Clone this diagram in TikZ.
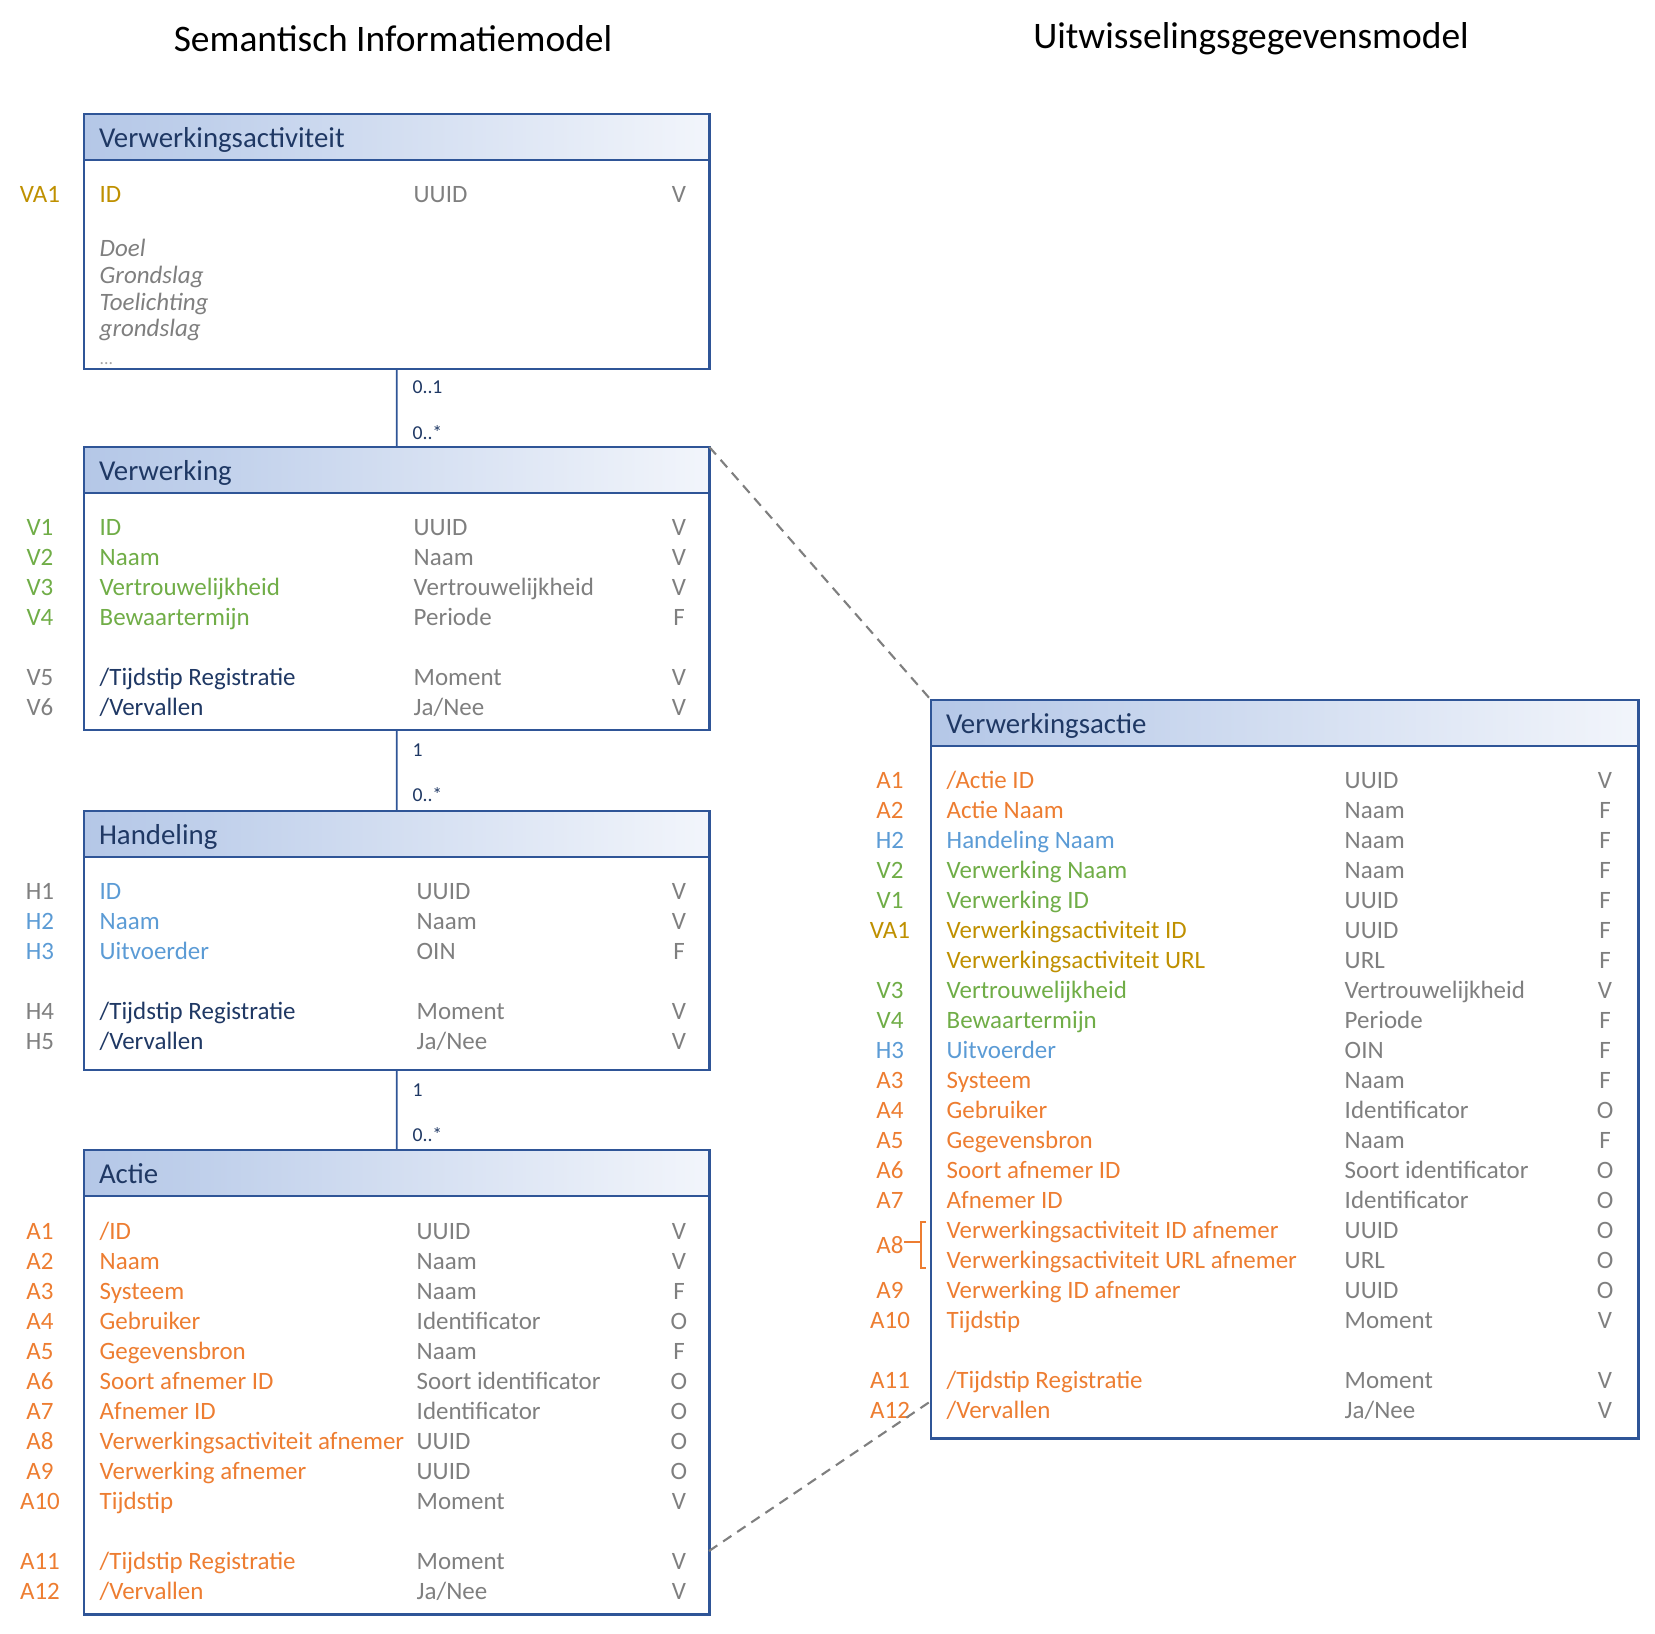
\documentclass[tikz,border=0pt]{standalone}
\usepackage{fontspec}
\setmainfont{Carlito}
\usepackage{tikz}
\usepackage{color}
\definecolor{Rand}{RGB}{47,85,151}
\definecolor{KopL}{RGB}{180,199,231}
\definecolor{KopR}{RGB}{242,245,251}
\definecolor{Navy}{RGB}{31,56,100}
\definecolor{Grijs}{RGB}{127,127,127}
\definecolor{Oranje}{RGB}{237,125,49}
\definecolor{Groen}{RGB}{112,173,71}
\definecolor{Lichtblauw}{RGB}{91,155,213}
\definecolor{Goud}{RGB}{191,144,0}
\usetikzlibrary{shapes,arrows,positioning}
\tikzset{header/.style={rectangle, draw=Rand, line width=0.7pt, outer sep=0pt, left color=KopL, right color=KopR, text=Navy, text width=5.95cm, inner xsep=0.15cm, inner ysep=0pt,
 minimum height=0.46cm, anchor=north west, font=\fontsize{8.2pt}{9pt}\selectfont, text height=0.6em, text depth=0pt}}
\tikzset{body/.style={rectangle, draw=Rand, line width=0.7pt, outer sep=0pt, minimum width=6.25cm, anchor=north west}}
\tikzset{attr/.style={anchor=west, inner sep=0pt, yshift=0.03cm, text height=0.64em, text depth=0pt, font=\fontsize{7.1pt}{8pt}\selectfont}}
\tikzset{dtype/.style={attr, text=Grijs}}
\tikzset{flagtxt/.style={attr, anchor=center, text=Grijs}}
\tikzset{rowid/.style={attr, anchor=center}}
\tikzset{hand/.style={attr, text=Grijs, font=\fontsize{7.1pt}{8pt}\selectfont\itshape}}
\tikzset{mult/.style={anchor=west, inner sep=0pt, xshift=0.15cm, text=Navy, font=\fontsize{5.6pt}{6pt}\selectfont}}
\tikzset{heading/.style={inner sep=0pt, font=\fontsize{10.65pt}{12pt}\selectfont}}
\tikzset{line/.style={draw=Rand, line width=0.5pt}}
\tikzset{dashline/.style={draw=Grijs, line width=0.6pt, dash pattern=on 0.1cm off 0.07cm}}

\begin{document}
\begin{tikzpicture}[x=0.01cm, y=-0.01cm]
        \useasboundingbox (0,0) rectangle (1655,1634);
        \node[heading] (sim) at (393,39) {Semantisch Informatiemodel};
        \node[heading] (ugm) at (1251,39) {Uitwisselingsgegevensmodel};

        % Verwerkingsactiviteit
        \node[header] (vahd) at (84,114) {Verwerkingsactiviteit};
        \node[body, minimum height=2.09cm] (vabd) at (vahd.south west) {};
        \node[rowid, text=Goud] (va1l) at (40,194) {VA1}; \node[attr, text=Goud] (va1n) at (99,194) {ID}; \node[dtype] (va1t) at (413,194) {UUID}; \node[flagtxt] (va1f) at (679,194) {V};
        \node[hand] (doel) at (99,248) {Doel};
        \node[hand] (grsl) at (99,275) {Grondslag};
        \node[hand] (toel) at (99,302) {Toelichting};
        \node[hand] (grs2) at (99,328) {grondslag};
        \node[hand, font=\fontsize{5pt}{6pt}\selectfont, text=Grijs!70] (dots) at (99,356) {...};

        % Verwerking
        \node[header] (vhd) at (84,447) {Verwerking};
        \node[body, minimum height=2.37cm] (vbd) at (vhd.south west) {};
        \node[rowid, text=Groen] (v1l) at (40,527) {V1}; \node[attr, text=Groen] (v1n) at (99,527) {ID}; \node[dtype] (v1t) at (413,527) {UUID}; \node[flagtxt] (v1f) at (679,527) {V};
        \node[rowid, text=Groen] (v2l) at (40,557) {V2}; \node[attr, text=Groen] (v2n) at (99,557) {Naam}; \node[dtype] (v2t) at (413,557) {Naam}; \node[flagtxt] (v2f) at (679,557) {V};
        \node[rowid, text=Groen] (v3l) at (40,587) {V3}; \node[attr, text=Groen] (v3n) at (99,587) {Vertrouwelijkheid}; \node[dtype] (v3t) at (413,587) {Vertrouwelijkheid}; \node[flagtxt] (v3f) at (679,587) {V};
        \node[rowid, text=Groen] (v4l) at (40,617) {V4}; \node[attr, text=Groen] (v4n) at (99,617) {Bewaartermijn}; \node[dtype] (v4t) at (413,617) {Periode}; \node[flagtxt] (v4f) at (679,617) {F};
        \node[rowid, text=Grijs] (v5l) at (40,677) {V5}; \node[attr, text=Navy] (v5n) at (99,677) {/Tijdstip Registratie}; \node[dtype] (v5t) at (413,677) {Moment}; \node[flagtxt] (v5f) at (679,677) {V};
        \node[rowid, text=Grijs] (v6l) at (40,707) {V6}; \node[attr, text=Navy] (v6n) at (99,707) {/Vervallen}; \node[dtype] (v6t) at (413,707) {Ja/Nee}; \node[flagtxt] (v6f) at (679,707) {V};

        % Handeling
        \node[header] (hhd) at (84,811) {Handeling};
        \node[body, minimum height=2.13cm] (hbd) at (hhd.south west) {};
        \node[rowid, text=Grijs] (h1l) at (40,891) {H1}; \node[attr, text=Lichtblauw] (h1n) at (99,891) {ID}; \node[dtype] (h1t) at (416,891) {UUID}; \node[flagtxt] (h1f) at (679,891) {V};
        \node[rowid, text=Lichtblauw] (h2l) at (40,921) {H2}; \node[attr, text=Lichtblauw] (h2n) at (99,921) {Naam}; \node[dtype] (h2t) at (416,921) {Naam}; \node[flagtxt] (h2f) at (679,921) {V};
        \node[rowid, text=Lichtblauw] (h3l) at (40,951) {H3}; \node[attr, text=Lichtblauw] (h3n) at (99,951) {Uitvoerder}; \node[dtype] (h3t) at (416,951) {OIN}; \node[flagtxt] (h3f) at (679,951) {F};
        \node[rowid, text=Grijs] (h4l) at (40,1011) {H4}; \node[attr, text=Navy] (h4n) at (99,1011) {/Tijdstip Registratie}; \node[dtype] (h4t) at (416,1011) {Moment}; \node[flagtxt] (h4f) at (679,1011) {V};
        \node[rowid, text=Grijs] (h5l) at (40,1041) {H5}; \node[attr, text=Navy] (h5n) at (99,1041) {/Vervallen}; \node[dtype] (h5t) at (416,1041) {Ja/Nee}; \node[flagtxt] (h5f) at (679,1041) {V};

        % Actie
        \node[header] (ahd) at (84,1150) {Actie};
        \node[body, minimum height=4.18cm] (abd) at (ahd.south west) {};
        \node[rowid, text=Oranje] (a1l) at (40,1231) {A1}; \node[attr, text=Oranje] (a1n) at (99,1231) {/ID}; \node[dtype] (a1t) at (416,1231) {UUID}; \node[flagtxt] (a1f) at (679,1231) {V};
        \node[rowid, text=Oranje] (a2l) at (40,1261) {A2}; \node[attr, text=Oranje] (a2n) at (99,1261) {Naam}; \node[dtype] (a2t) at (416,1261) {Naam}; \node[flagtxt] (a2f) at (679,1261) {V};
        \node[rowid, text=Oranje] (a3l) at (40,1291) {A3}; \node[attr, text=Oranje] (a3n) at (99,1291) {Systeem}; \node[dtype] (a3t) at (416,1291) {Naam}; \node[flagtxt] (a3f) at (679,1291) {F};
        \node[rowid, text=Oranje] (a4l) at (40,1321) {A4}; \node[attr, text=Oranje] (a4n) at (99,1321) {Gebruiker}; \node[dtype] (a4t) at (416,1321) {Identificator}; \node[flagtxt] (a4f) at (679,1321) {O};
        \node[rowid, text=Oranje] (a5l) at (40,1351) {A5}; \node[attr, text=Oranje] (a5n) at (99,1351) {Gegevensbron}; \node[dtype] (a5t) at (416,1351) {Naam}; \node[flagtxt] (a5f) at (679,1351) {F};
        \node[rowid, text=Oranje] (a6l) at (40,1381) {A6}; \node[attr, text=Oranje] (a6n) at (99,1381) {Soort afnemer ID}; \node[dtype] (a6t) at (416,1381) {Soort identificator}; \node[flagtxt] (a6f) at (679,1381) {O};
        \node[rowid, text=Oranje] (a7l) at (40,1411) {A7}; \node[attr, text=Oranje] (a7n) at (99,1411) {Afnemer ID}; \node[dtype] (a7t) at (416,1411) {Identificator}; \node[flagtxt] (a7f) at (679,1411) {O};
        \node[rowid, text=Oranje] (a8l) at (40,1441) {A8}; \node[attr, text=Oranje] (a8n) at (99,1441) {Verwerkingsactiviteit afnemer}; \node[dtype] (a8t) at (416,1441) {UUID}; \node[flagtxt] (a8f) at (679,1441) {O};
        \node[rowid, text=Oranje] (a9l) at (40,1471) {A9}; \node[attr, text=Oranje] (a9n) at (99,1471) {Verwerking afnemer}; \node[dtype] (a9t) at (416,1471) {UUID}; \node[flagtxt] (a9f) at (679,1471) {O};
        \node[rowid, text=Oranje] (a10l) at (40,1501) {A10}; \node[attr, text=Oranje] (a10n) at (99,1501) {Tijdstip}; \node[dtype] (a10t) at (416,1501) {Moment}; \node[flagtxt] (a10f) at (679,1501) {V};
        \node[rowid, text=Oranje] (a11l) at (40,1561) {A11}; \node[attr, text=Oranje] (a11n) at (99,1561) {/Tijdstip Registratie}; \node[dtype] (a11t) at (416,1561) {Moment}; \node[flagtxt] (a11f) at (679,1561) {V};
        \node[rowid, text=Oranje] (a12l) at (40,1591) {A12}; \node[attr, text=Oranje] (a12n) at (99,1591) {/Vervallen}; \node[dtype] (a12t) at (416,1591) {Ja/Nee}; \node[flagtxt] (a12f) at (679,1591) {V};

        % Verwerkingsactie
        \node[header, text width=6.77cm] (uhd) at (931,700) {Verwerkingsactie};
        \node[body, minimum width=7.07cm, minimum height=6.92cm] (ubd) at (uhd.south west) {};
        \node[rowid, text=Oranje] (ua1l) at (890,780) {A1}; \node[attr, text=Oranje] (ua1n) at (946,780) {/Actie ID}; \node[dtype] (ua1t) at (1344,780) {UUID}; \node[flagtxt] (ua1f) at (1605,780) {V};
        \node[rowid, text=Oranje] (ua2l) at (890,810) {A2}; \node[attr, text=Oranje] (ua2n) at (946,810) {Actie Naam}; \node[dtype] (ua2t) at (1344,810) {Naam}; \node[flagtxt] (ua2f) at (1605,810) {F};
        \node[rowid, text=Lichtblauw] (uh2l) at (890,840) {H2}; \node[attr, text=Lichtblauw] (uh2n) at (946,840) {Handeling Naam}; \node[dtype] (uh2t) at (1344,840) {Naam}; \node[flagtxt] (uh2f) at (1605,840) {F};
        \node[rowid, text=Groen] (uv2l) at (890,870) {V2}; \node[attr, text=Groen] (uv2n) at (946,870) {Verwerking Naam}; \node[dtype] (uv2t) at (1344,870) {Naam}; \node[flagtxt] (uv2f) at (1605,870) {F};
        \node[rowid, text=Groen] (uv1l) at (890,900) {V1}; \node[attr, text=Groen] (uv1n) at (946,900) {Verwerking ID}; \node[dtype] (uv1t) at (1344,900) {UUID}; \node[flagtxt] (uv1f) at (1605,900) {F};
        \node[rowid, text=Goud] (uva1l) at (890,930) {VA1}; \node[attr, text=Goud] (uva1n) at (946,930) {Verwerkingsactiviteit ID}; \node[dtype] (uva1t) at (1344,930) {UUID}; \node[flagtxt] (uva1f) at (1605,930) {F};
        \node[attr, text=Goud] (uurln) at (946,960) {Verwerkingsactiviteit URL}; \node[dtype] (uurlt) at (1344,960) {URL}; \node[flagtxt] (uurlf) at (1605,960) {F};
        \node[rowid, text=Groen] (uv3l) at (890,990) {V3}; \node[attr, text=Groen] (uv3n) at (946,990) {Vertrouwelijkheid}; \node[dtype] (uv3t) at (1344,990) {Vertrouwelijkheid}; \node[flagtxt] (uv3f) at (1605,990) {V};
        \node[rowid, text=Groen] (uv4l) at (890,1020) {V4}; \node[attr, text=Groen] (uv4n) at (946,1020) {Bewaartermijn}; \node[dtype] (uv4t) at (1344,1020) {Periode}; \node[flagtxt] (uv4f) at (1605,1020) {F};
        \node[rowid, text=Lichtblauw] (uh3l) at (890,1050) {H3}; \node[attr, text=Lichtblauw] (uh3n) at (946,1050) {Uitvoerder}; \node[dtype] (uh3t) at (1344,1050) {OIN}; \node[flagtxt] (uh3f) at (1605,1050) {F};
        \node[rowid, text=Oranje] (ua3l) at (890,1080) {A3}; \node[attr, text=Oranje] (ua3n) at (946,1080) {Systeem}; \node[dtype] (ua3t) at (1344,1080) {Naam}; \node[flagtxt] (ua3f) at (1605,1080) {F};
        \node[rowid, text=Oranje] (ua4l) at (890,1110) {A4}; \node[attr, text=Oranje] (ua4n) at (946,1110) {Gebruiker}; \node[dtype] (ua4t) at (1344,1110) {Identificator}; \node[flagtxt] (ua4f) at (1605,1110) {O};
        \node[rowid, text=Oranje] (ua5l) at (890,1140) {A5}; \node[attr, text=Oranje] (ua5n) at (946,1140) {Gegevensbron}; \node[dtype] (ua5t) at (1344,1140) {Naam}; \node[flagtxt] (ua5f) at (1605,1140) {F};
        \node[rowid, text=Oranje] (ua6l) at (890,1170) {A6}; \node[attr, text=Oranje] (ua6n) at (946,1170) {Soort afnemer ID}; \node[dtype] (ua6t) at (1344,1170) {Soort identificator}; \node[flagtxt] (ua6f) at (1605,1170) {O};
        \node[rowid, text=Oranje] (ua7l) at (890,1200) {A7}; \node[attr, text=Oranje] (ua7n) at (946,1200) {Afnemer ID}; \node[dtype] (ua7t) at (1344,1200) {Identificator}; \node[flagtxt] (ua7f) at (1605,1200) {O};
        \node[rowid, text=Oranje] (ua8l) at (890,1245) {A8};
        \node[attr, text=Oranje] (ua8n) at (946,1230) {Verwerkingsactiviteit ID afnemer}; \node[dtype] (ua8t) at (1344,1230) {UUID}; \node[flagtxt] (ua8f) at (1605,1230) {O};
        \node[attr, text=Oranje] (ua8bn) at (946,1260) {Verwerkingsactiviteit URL afnemer}; \node[dtype] (ua8bt) at (1344,1260) {URL}; \node[flagtxt] (ua8bf) at (1605,1260) {O};
        \node[rowid, text=Oranje] (ua9l) at (890,1290) {A9}; \node[attr, text=Oranje] (ua9n) at (946,1290) {Verwerking ID afnemer}; \node[dtype] (ua9t) at (1344,1290) {UUID}; \node[flagtxt] (ua9f) at (1605,1290) {O};
        \node[rowid, text=Oranje] (ua10l) at (890,1320) {A10}; \node[attr, text=Oranje] (ua10n) at (946,1320) {Tijdstip}; \node[dtype] (ua10t) at (1344,1320) {Moment}; \node[flagtxt] (ua10f) at (1605,1320) {V};
        \node[rowid, text=Oranje] (ua11l) at (890,1380) {A11}; \node[attr, text=Oranje] (ua11n) at (946,1380) {/Tijdstip Registratie}; \node[dtype] (ua11t) at (1344,1380) {Moment}; \node[flagtxt] (ua11f) at (1605,1380) {V};
        \node[rowid, text=Oranje] (ua12l) at (890,1410) {A12}; \node[attr, text=Oranje] (ua12n) at (946,1410) {/Vervallen}; \node[dtype] (ua12t) at (1344,1410) {Ja/Nee}; \node[flagtxt] (ua12f) at (1605,1410) {V};
        \coordinate (brk) at (921,1245);
        \draw[Oranje, line width=0.5pt] (926,1222) -- (921,1222) -- (921,1268) -- (926,1268);
        \draw[Oranje, line width=0.5pt] (ua8l.east) -- (ua8l.east -| brk);

        \path[line] (vabd.south) -- node[mult, pos=0.23] (vam1) {0..1} node[mult, pos=0.81] (vam2) {0..*} (vhd.north);
        \path[line] (vbd.south) -- node[mult, pos=0.25] (vm1) {1} node[mult, pos=0.80] (vm2) {0..*} (hhd.north);
        \path[line] (hbd.south) -- node[mult, pos=0.25] (hm1) {1} node[mult, pos=0.81] (hm2) {0..*} (ahd.north);

        \coordinate (adash) at (709,1551);
        \coordinate (udash) at (931,1401);
        \path[dashline] (vhd.north east) -- (uhd.north west);
        \path[dashline] (adash) -- (udash);
      \end{tikzpicture}
\end{document}
